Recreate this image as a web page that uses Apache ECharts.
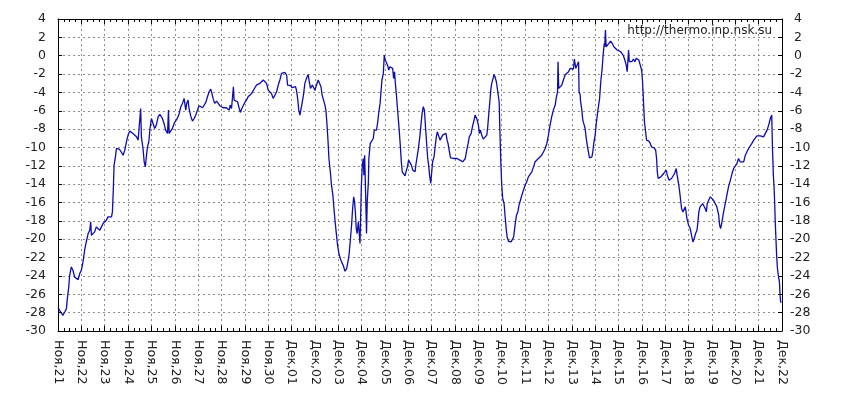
<!DOCTYPE html>
<html><head><meta charset="utf-8">
<script src="https://cdn.jsdelivr.net/npm/echarts@6/dist/echarts.min.js"></script>
<style>html,body{margin:0;padding:0;background:#fff}#c{width:850px;height:400px}</style>
</head><body><div id="c"></div>
<script>
// x tick labels (one per day, starting Nov 21)
const tickLabels = ['Ноя,21','Ноя,22','Ноя,23','Ноя,24','Ноя,25','Ноя,26','Ноя,27','Ноя,28','Ноя,29','Ноя,30',
  'Дек,01','Дек,02','Дек,03','Дек,04','Дек,05','Дек,06','Дек,07','Дек,08','Дек,09','Дек,10','Дек,11',
  'Дек,12','Дек,13','Дек,14','Дек,15','Дек,16','Дек,17','Дек,18','Дек,19','Дек,20','Дек,21','Дек,22'];
const yTicks = {min: -30, max: 4, step: 2};
const siteText = 'http://thermo.inp.nsk.su';

// readings: [days since Nov 21 00:00, temperature °C]
const week1 = [[0.00,-27.45],[0.07,-27.75],[0.14,-27.56],[0.21,-28.29],[0.29,-27.93],[0.36,-27.56],[0.40,-26.47],[0.46,-25.2],[0.50,-23.93],[0.57,-23.02],[0.64,-23.38],[0.71,-24.11],[0.79,-23.93],[0.86,-24.4],[0.93,-23.75],[1.00,-23.38],[1.07,-22.47],[1.14,-21.2],[1.21,-20.3],[1.29,-19.38],[1.36,-19.02],[1.40,-18.11],[1.43,-19.56],[1.50,-19.75],[1.57,-19.2],[1.64,-18.65],[1.71,-18.47],[1.79,-19.02],[1.86,-18.65],[1.93,-18.29],[2.00,-18.47],[2.07,-17.93],[2.14,-17.56],[2.21,-17.38],[2.29,-17.56],[2.33,-17.02],[2.37,-14.47],[2.40,-11.93],[2.46,-11.02],[2.50,-10.11],[2.57,-10.29],[2.64,-10.22],[2.71,-10.11],[2.79,-10.84],[2.86,-10.29],[2.93,-9.38],[3.00,-8.65],[3.07,-8.22],[3.14,-8.11],[3.21,-8.47],[3.29,-8.65],[3.36,-8.84],[3.43,-9.2],[3.50,-9.02],[3.54,-5.75],[3.57,-8.84],[3.64,-10.11],[3.69,-11.56],[3.74,-12.11],[3.79,-10.84],[3.83,-9.93],[3.89,-9.38],[3.94,-7.93],[4.00,-6.84],[4.07,-7.38],[4.14,-7.93],[4.21,-7.56],[4.29,-6.65],[4.36,-6.4]];
const week2 = [[4.40,-6.47],[4.47,-6.84],[4.54,-7.38],[4.61,-8.11],[4.69,-8.47],[4.73,-5.93],[4.76,-8.47],[4.83,-8.29],[4.90,-7.93],[4.97,-7.38],[5.04,-7.2],[5.11,-6.84],[5.19,-6.29],[5.26,-5.56],[5.33,-5.2],[5.40,-4.65],[5.44,-5.38],[5.47,-5.93],[5.51,-5.2],[5.57,-4.84],[5.61,-5.75],[5.69,-6.65],[5.76,-7.13],[5.83,-6.84],[5.90,-6.47],[5.97,-5.93],[6.04,-5.45],[6.11,-5.56],[6.19,-5.67],[6.26,-5.56],[6.33,-5.09],[6.40,-4.47],[6.47,-3.93],[6.54,-3.64],[6.59,-4.11],[6.64,-4.65],[6.71,-5.2],[6.79,-4.95],[6.86,-5.2],[6.93,-5.45],[7.00,-5.56],[7.07,-5.67],[7.14,-5.75],[7.21,-5.67],[7.29,-5.56],[7.33,-5.93],[7.37,-5.38],[7.43,-5.75],[7.49,-5.82],[7.51,-3.38],[7.54,-4.84],[7.61,-4.65],[7.69,-5.02],[7.76,-5.75],[7.81,-6.18],[7.87,-5.75],[7.93,-5.45],[8.00,-5.09],[8.07,-4.84],[8.14,-4.47],[8.21,-4.29],[8.29,-4.11],[8.36,-3.93],[8.43,-3.49],[8.50,-3.2],[8.57,-3.02],[8.64,-3.02],[8.71,-2.91],[8.79,-2.65]];
const week3 = [[8.86,-2.65],[8.93,-3.02],[9.00,-3.75],[9.07,-3.93],[9.14,-4.11],[9.21,-4.65],[9.29,-4.29],[9.36,-3.93],[9.43,-3.2],[9.50,-2.65],[9.57,-1.93],[9.64,-1.82],[9.71,-1.82],[9.79,-2.11],[9.83,-3.2],[9.89,-3.38],[9.96,-3.27],[10.03,-3.49],[10.10,-3.56],[10.17,-3.38],[10.21,-3.75],[10.26,-4.65],[10.31,-5.93],[10.36,-6.47],[10.40,-6.65],[10.46,-5.02],[10.51,-4.29],[10.57,-3.02],[10.64,-2.47],[10.71,-2.04],[10.76,-2.84],[10.81,-3.56],[10.89,-3.2],[10.96,-3.38],[11.00,-3.75],[11.07,-3.2],[11.14,-2.65],[11.21,-2.47],[11.26,-3.38],[11.31,-4.29],[11.39,-4.47],[11.43,-5.38],[11.47,-5.93],[11.51,-7.2],[11.56,-9.2],[11.60,-11.2],[11.66,-12.65],[11.71,-14.11],[11.77,-15.2],[11.81,-16.47],[11.86,-17.93],[11.91,-19.2],[11.97,-20.65],[12.03,-21.56],[12.09,-22.11],[12.14,-22.47],[12.21,-22.84],[12.29,-23.49],[12.36,-23.2],[12.40,-22.65],[12.46,-21.75],[12.51,-20.3],[12.57,-18.47],[12.61,-16.84],[12.66,-15.38],[12.70,-15.93],[12.74,-17.38],[12.77,-18.84],[12.81,-19.38],[12.86,-18.11],[12.90,-19.38],[12.93,-20.47],[12.96,-17.38],[12.99,-14.11],[13.03,-11.93],[13.07,-11.2],[13.10,-13.02],[13.13,-10.84],[13.17,-14.84],[13.21,-19.38],[13.24,-15.93],[13.29,-13.75],[13.31,-11.2]];
const week4 = [[13.37,-9.56],[13.44,-9.38],[13.50,-9.02],[13.54,-8.11],[13.59,-7.93],[13.64,-8.11],[13.69,-7.2],[13.73,-6.29],[13.79,-5.2],[13.83,-3.93],[13.87,-2.65],[13.93,-1.93],[13.97,0.07],[14.01,-0.47],[14.07,-0.65],[14.11,-1.02],[14.16,-1.56],[14.21,-1.2],[14.27,-1.02],[14.33,-1.38],[14.37,-2.47],[14.41,-1.75],[14.44,-2.84],[14.49,-4.29],[14.53,-5.56],[14.57,-6.84],[14.61,-8.11],[14.66,-9.93],[14.70,-11.56],[14.74,-12.65],[14.80,-12.84],[14.86,-13.09],[14.90,-12.65],[14.96,-12.11],[15.01,-11.38],[15.07,-11.56],[15.13,-11.93],[15.19,-12.47],[15.23,-12.29],[15.29,-12.65],[15.33,-11.75],[15.40,-10.65],[15.44,-9.93],[15.50,-8.65],[15.54,-7.56],[15.59,-6.29],[15.64,-5.56],[15.69,-5.93],[15.73,-7.56],[15.79,-9.75],[15.83,-11.2],[15.87,-11.93],[15.91,-13.02],[15.96,-13.93],[16.00,-13.75],[16.04,-11.56],[16.10,-11.02],[16.14,-10.11],[16.19,-9.02],[16.24,-8.29],[16.30,-8.11],[16.36,-9.2],[16.41,-9.02],[16.47,-8.65],[16.54,-8.47],[16.61,-8.47],[16.66,-9.2],[16.70,-9.56],[16.76,-10.47],[16.81,-11.13],[16.87,-11.2],[16.94,-11.2],[17.01,-11.13],[17.09,-11.2],[17.16,-11.02],[17.21,-11.38],[17.27,-11.2],[17.33,-11.56],[17.39,-11.75],[17.44,-11.2],[17.50,-10.29],[17.56,-9.56],[17.61,-8.84],[17.69,-8.47],[17.76,-7.56],[17.80,-7.2]];
const week5 = [[17.86,-6.47],[17.93,-6.84],[18.00,-7.56],[18.04,-8.47],[18.09,-8.11],[18.14,-8.65],[18.21,-9.09],[18.29,-9.2],[18.36,-8.65],[18.40,-7.75],[18.44,-6.47],[18.49,-5.02],[18.53,-3.75],[18.57,-3.02],[18.63,-2.47],[18.67,-2.04],[18.71,-2.29],[18.77,-2.84],[18.83,-3.93],[18.89,-5.02],[18.91,-7.2],[18.96,-11.56],[19.00,-14.11],[19.04,-15.56],[19.10,-16.11],[19.14,-17.38],[19.19,-18.84],[19.23,-19.75],[19.29,-20.22],[19.34,-20.36],[19.40,-20.29],[19.46,-20.22],[19.51,-19.75],[19.57,-18.47],[19.63,-17.38],[19.69,-17.02],[19.74,-16.29],[19.80,-15.75],[19.86,-15.2],[19.93,-14.65],[20.00,-14.11],[20.07,-13.75],[20.14,-13.2],[20.21,-13.02],[20.29,-12.65],[20.36,-12.11],[20.43,-11.56],[20.50,-11.38],[20.57,-11.2],[20.64,-11.02],[20.71,-10.84],[20.79,-10.47],[20.86,-10.11],[20.93,-9.56],[21.00,-8.65],[21.07,-7.56],[21.14,-6.65],[21.21,-5.93],[21.29,-5.38],[21.33,-4.65],[21.39,-3.93],[21.41,-0.65],[21.44,-3.56],[21.50,-3.38],[21.57,-3.2],[21.64,-2.65],[21.71,-2.11],[21.79,-1.93],[21.86,-1.75],[21.93,-1.38],[22.00,-1.2],[22.07,-1.45],[22.11,-0.36],[22.17,-1.38],[22.23,-1.02],[22.29,-0.65],[22.31,-3.93],[22.36,-4.29]];
const week6 = [[22.37,-4.84],[22.43,-5.93],[22.47,-7.02],[22.51,-7.38],[22.57,-7.93],[22.61,-8.84],[22.66,-9.75],[22.71,-10.47],[22.76,-11.13],[22.80,-11.27],[22.86,-11.02],[22.90,-10.47],[22.94,-9.56],[23.00,-8.65],[23.04,-7.56],[23.11,-6.11],[23.19,-4.65],[23.24,-2.84],[23.30,-1.38],[23.34,0.07],[23.39,1.35],[23.41,0.98],[23.44,2.8],[23.47,0.98],[23.51,1.16],[23.59,1.35],[23.66,1.6],[23.73,1.35],[23.80,0.98],[23.87,0.8],[23.94,0.62],[24.01,0.55],[24.09,0.44],[24.16,0.25],[24.21,0.0],[24.27,-0.47],[24.33,-1.02],[24.37,-1.75],[24.40,-0.65],[24.43,0.62],[24.46,-0.65],[24.51,-0.47],[24.57,-0.65],[24.64,-0.36],[24.70,-0.65],[24.76,-0.29],[24.83,-0.22],[24.87,-0.47],[24.93,-1.02],[24.99,-1.56],[25.03,-2.84],[25.07,-5.02],[25.11,-7.2],[25.16,-8.29],[25.20,-9.2],[25.24,-9.38],[25.30,-9.31],[25.36,-9.56],[25.41,-9.93],[25.47,-10.11],[25.53,-10.04],[25.59,-10.29],[25.63,-11.2],[25.66,-12.65],[25.70,-13.38],[25.76,-13.31],[25.81,-13.2],[25.87,-13.02],[25.93,-12.84],[25.99,-12.65],[26.04,-12.47],[26.09,-13.02],[26.16,-13.56],[26.21,-13.75],[26.27,-13.38],[26.33,-13.56],[26.40,-12.84],[26.47,-12.29],[26.51,-13.02],[26.57,-13.93],[26.61,-14.65],[26.66,-15.75],[26.70,-16.65],[26.76,-17.02],[26.81,-17.2]];
const week7 = [[26.86,-16.47],[26.90,-16.65],[26.93,-17.75],[27.00,-18.47],[27.07,-18.84],[27.14,-19.75],[27.19,-20.3],[27.24,-19.93],[27.30,-19.38],[27.36,-19.02],[27.40,-18.11],[27.44,-17.02],[27.49,-16.47],[27.54,-16.29],[27.60,-16.11],[27.66,-16.29],[27.71,-16.65],[27.76,-17.02],[27.80,-16.11],[27.86,-15.75],[27.93,-15.38],[28.00,-15.2],[28.07,-15.75],[28.14,-15.93],[28.21,-16.47],[28.29,-17.38],[28.33,-18.47],[28.37,-18.84],[28.43,-18.11],[28.50,-17.02],[28.57,-16.11],[28.64,-15.2],[28.71,-14.29],[28.79,-13.56],[28.86,-12.84],[28.93,-12.29],[29.00,-12.11],[29.07,-11.75],[29.14,-11.2],[29.21,-11.56],[29.29,-11.75],[29.36,-11.56],[29.43,-10.84],[29.50,-10.47],[29.57,-10.11],[29.64,-9.93],[29.71,-9.56],[29.79,-9.2],[29.86,-8.95],[29.93,-8.73],[30.00,-8.65],[30.07,-8.73],[30.14,-8.84],[30.21,-8.84],[30.29,-8.65],[30.36,-8.11],[30.43,-7.56],[30.50,-6.84],[30.56,-6.47],[30.59,-9.93],[30.63,-13.02],[30.66,-14.29],[30.69,-16.29],[30.71,-18.11],[30.74,-19.93],[30.77,-21.75],[30.80,-23.02],[30.84,-23.93],[30.89,-24.65],[30.91,-25.75],[30.94,-26.84],[30.98,-26.9]];

const readings = [].concat(week1, week2, week3, week4, week5, week6, week7);

const chart = echarts.init(document.getElementById('c'), null, {renderer: 'canvas'});
const FONT = 'DejaVu Sans';
const FS = 12.5;
const TXT = '#222';
const gridLine = {show: true, lineStyle: {color: '#8c8c8c', type: [2, 3], width: 1}};
const xBase = {
  type: 'value', min: 0, max: tickLabels.length - 1, interval: 1,
  axisLine: {show: true, onZero: false, lineStyle: {color: '#000', width: 1}},
  axisTick: {show: true, inside: true, length: 5, lineStyle: {color: '#000'}},
  minorTick: {show: true, splitNumber: 4, length: 3, lineStyle: {color: '#000'}},
  splitLine: gridLine
};
const yBase = {
  type: 'value', min: yTicks.min, max: yTicks.max, interval: yTicks.step,
  axisLine: {show: true, onZero: false, lineStyle: {color: '#000', width: 1}},
  axisTick: {show: true, inside: true, length: 4, lineStyle: {color: '#000'}},
  splitLine: gridLine
};
chart.setOption({
  animation: false,
  backgroundColor: '#fff',
  grid: {left: 58, right: 68, top: 19, bottom: 69, containLabel: false, outerBoundsMode: 'none'},
  xAxis: [
    Object.assign({}, xBase, {position: 'bottom',
      axisLabel: {rotate: -90, margin: 9, fontFamily: FONT, fontSize: FS, color: TXT,
        formatter: v => tickLabels[Math.round(v)] || ''}}),
    Object.assign({}, xBase, {position: 'top', axisLabel: {show: false}, splitLine: {show: false}})
  ],
  yAxis: [
    Object.assign({}, yBase, {position: 'left',
      axisLabel: {margin: 12, fontFamily: FONT, fontSize: FS, color: TXT}}),
    Object.assign({}, yBase, {position: 'right', splitLine: {show: false},
      axisLabel: {margin: 8, fontFamily: FONT, fontSize: FS, color: TXT,
        formatter: v => (v >= 0 ? ' ' + v : '' + v)}})
  ],
  graphic: [{
    type: 'text', right: 78, top: 25, z: 10,
    style: {text: siteText, font: '12px "DejaVu Sans"', fill: TXT}
  }],
  series: [{
    type: 'line', data: readings, showSymbol: false, symbol: 'none',
    xAxisIndex: 0, yAxisIndex: 0,
    lineStyle: {color: '#0c0cb0', width: 1.3}
  }]
});
</script>
</body></html>
